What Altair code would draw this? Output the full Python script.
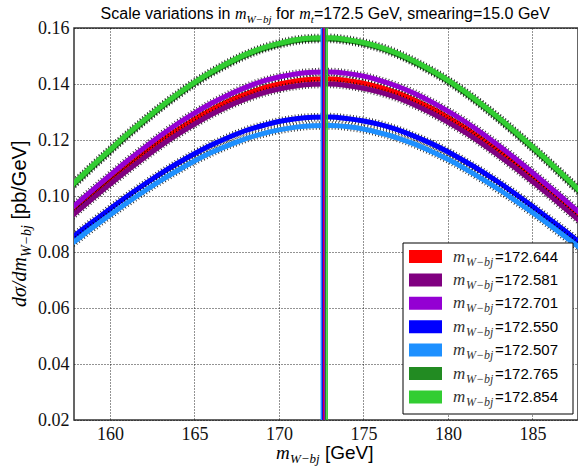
import altair as alt
import pandas as pd

# ---------------- data ----------------
mass = list(range(157, 189))

series_names = ["172.644", "172.581", "172.701", "172.550", "172.507", "172.765", "172.854"]
series_colors = ["#ff0000", "#800080", "#9400d3", "#0000ff", "#1e90ff", "#228b22", "#32cd32"]
series_means = [172.644, 172.581, 172.701, 172.550, 172.507, 172.765, 172.854]

y_172644 = [0.0902, 0.0954, 0.1006, 0.1056, 0.1104, 0.1151, 0.1195, 0.1236, 0.1274, 0.1308, 0.1338,
            0.1363, 0.1384, 0.1400, 0.1411, 0.1417, 0.1418, 0.1413, 0.1403, 0.1388, 0.1368, 0.1343,
            0.1314, 0.1281, 0.1244, 0.1203, 0.1160, 0.1114, 0.1066, 0.1016, 0.0965, 0.0912]
y_172581 = [0.0890, 0.0942, 0.0993, 0.1042, 0.1090, 0.1136, 0.1180, 0.1220, 0.1257, 0.1291, 0.1321,
            0.1346, 0.1367, 0.1382, 0.1393, 0.1399, 0.1400, 0.1395, 0.1385, 0.1370, 0.1351, 0.1326,
            0.1297, 0.1264, 0.1228, 0.1188, 0.1145, 0.1100, 0.1052, 0.1003, 0.0952, 0.0901]
y_172701 = [0.0918, 0.0971, 0.1023, 0.1074, 0.1124, 0.1171, 0.1216, 0.1258, 0.1296, 0.1331, 0.1361,
            0.1387, 0.1409, 0.1425, 0.1436, 0.1442, 0.1443, 0.1438, 0.1428, 0.1412, 0.1392, 0.1367,
            0.1337, 0.1303, 0.1266, 0.1225, 0.1180, 0.1133, 0.1084, 0.1033, 0.0982, 0.0929]
y_172550 = [0.0815, 0.0863, 0.0909, 0.0954, 0.0998, 0.1040, 0.1080, 0.1117, 0.1151, 0.1182, 0.1209,
            0.1233, 0.1251, 0.1266, 0.1276, 0.1281, 0.1282, 0.1277, 0.1268, 0.1255, 0.1237, 0.1214,
            0.1188, 0.1158, 0.1124, 0.1088, 0.1049, 0.1007, 0.0963, 0.0918, 0.0872, 0.0825]
y_172507 = [0.0796, 0.0842, 0.0888, 0.0932, 0.0975, 0.1016, 0.1055, 0.1091, 0.1125, 0.1155, 0.1181,
            0.1204, 0.1222, 0.1236, 0.1246, 0.1251, 0.1252, 0.1248, 0.1239, 0.1225, 0.1208, 0.1186,
            0.1160, 0.1131, 0.1098, 0.1062, 0.1024, 0.0983, 0.0941, 0.0897, 0.0852, 0.0806]
y_172765 = [0.0991, 0.1049, 0.1106, 0.1161, 0.1215, 0.1266, 0.1315, 0.1360, 0.1402, 0.1439, 0.1472,
            0.1501, 0.1524, 0.1541, 0.1554, 0.1560, 0.1561, 0.1555, 0.1544, 0.1528, 0.1506, 0.1478,
            0.1446, 0.1410, 0.1369, 0.1324, 0.1276, 0.1225, 0.1172, 0.1117, 0.1061, 0.1003]
y_172854 = [0.0995, 0.1053, 0.1110, 0.1165, 0.1219, 0.1270, 0.1319, 0.1364, 0.1406, 0.1443, 0.1476,
            0.1505, 0.1528, 0.1545, 0.1558, 0.1564, 0.1565, 0.1559, 0.1548, 0.1532, 0.1510, 0.1482,
            0.1450, 0.1414, 0.1373, 0.1328, 0.1280, 0.1229, 0.1176, 0.1121, 0.1065, 0.1007]

series_values = [y_172644, y_172581, y_172701, y_172550, y_172507, y_172765, y_172854]

x_ticks = [160, 165, 170, 175, 180, 185]
y_ticks = [0.02, 0.04, 0.06, 0.08, 0.10, 0.12, 0.14, 0.16]

# ---------------- styling ----------------
W, H = 504, 392
SERIF = "Liberation Serif"
SANS = "Liberation Sans"

xscale = alt.Scale(domain=[157.87, 187.7], nice=False, zero=False)
yscale = alt.Scale(domain=[0.02, 0.16], nice=False, zero=False)

x_axis = alt.Axis(values=x_ticks, format="d", labelFont=SERIF, labelFontSize=18, labelColor="#111",
                  labelPadding=5, ticks=False, domain=False, grid=True, gridColor="black",
                  gridDash=[1, 2], gridOpacity=0.85, gridWidth=1, title=None, labelFlush=False)
y_axis = alt.Axis(values=y_ticks, format=".2f", labelFont=SERIF, labelFontSize=18, labelColor="#111",
                  labelPadding=5, ticks=False, domain=False, grid=True, gridColor="black",
                  gridDash=[1, 2], gridOpacity=0.85, gridWidth=1, title=None, labelFlush=False)

curve_layers = []
for name, col, vals in zip(series_names, series_colors, series_values):
    df = pd.DataFrame({"m": mass, "v": vals})
    base = alt.Chart(df).encode(
        x=alt.X("m:Q", scale=xscale, axis=x_axis),
        y=alt.Y("v:Q", scale=yscale, axis=y_axis),
    )
    curve_layers.append(base.mark_line(color="black", strokeWidth=8.5, strokeDash=[0.8, 2.4],
                                       opacity=0.9, interpolate="monotone", clip=True))
    curve_layers.append(base.mark_line(color=col, strokeWidth=5, interpolate="monotone", clip=True))

rules_df = pd.DataFrame({"mean": series_means, "col": series_colors})
rules = alt.Chart(rules_df).mark_rule(strokeWidth=1.5, clip=True).encode(
    x=alt.X("mean:Q", scale=xscale, axis=x_axis),
    color=alt.Color("col:N", scale=None),
)

main = alt.layer(*curve_layers, rules)

# ---------------- legend ----------------
leg_df = pd.DataFrame({"row": list(range(len(series_names))), "name": ["=" + n for n in series_names],
                       "col": series_colors})
one = pd.DataFrame({"k": [0]})
row_y = alt.Y("row:Q", scale=alt.Scale(domain=[0, 6], range=[228.5, 368.9]), axis=None)

leg_box = alt.Chart(one).mark_rect(fill="white", stroke="black", strokeWidth=1).encode(
    x=alt.value(329), x2=alt.value(499), y=alt.value(215), y2=alt.value(386))
leg_sw = alt.Chart(leg_df).mark_tick(orient="horizontal", size=33, thickness=13, opacity=1).encode(
    x=alt.value(351.5), y=row_y, color=alt.Color("col:N", scale=None))
leg_m = alt.Chart(leg_df).mark_text(text="m", font=SERIF, fontStyle="italic", fontSize=17,
                                    align="left", baseline="middle", color="#333").encode(
    x=alt.value(379), y=row_y)
leg_sub = alt.Chart(leg_df).mark_text(text="W\u2212bj", font=SERIF, fontStyle="italic", fontSize=12,
                                      align="left", baseline="middle", dy=5, color="#333").encode(
    x=alt.value(392), y=row_y)
leg_txt = alt.Chart(leg_df).mark_text(font=SANS, fontSize=15, align="left", baseline="middle",
                                      color="black").encode(
    x=alt.value(421), y=row_y, text="name:N")

legend = alt.layer(leg_box, leg_sw, leg_m, leg_sub, leg_txt)


def txt(s, x, y, font, size, style="normal", angle=0, align="left", baseline="alphabetic"):
    return alt.Chart(one).mark_text(text=s, font=font, fontSize=size, fontStyle=style, angle=angle,
                                    align=align, baseline=baseline, color="black").encode(
        x=alt.value(x), y=alt.value(y))


# ---------------- title pieces ----------------
ty = -9
titles = [
    txt("Scale variations in", 26.6, ty, SANS, 16),
    txt("m", 160.9, ty, SERIF, 16, "italic"),
    txt("W\u2212bj", 172.5, ty + 4, SERIF, 11, "italic"),
    txt("for", 202.0, ty, SANS, 16),
    txt("m", 225.2, ty, SERIF, 16, "italic"),
    txt("t", 236.8, ty + 4, SERIF, 11, "italic"),
    txt("=172.5 GeV, smearing=15.0 GeV", 239.9, ty, SANS, 16),
]

# x-axis title
xt_y = 431
titles += [
    txt("m", 202.0, xt_y, SERIF, 19, "italic"),
    txt("W\u2212bj", 216.0, xt_y + 4, SERIF, 13, "italic"),
    txt("[GeV]", 251.0, xt_y, SANS, 19),
]

# y-axis title (rotated)
yt_x = -48
titles += [
    txt("d\u03c3/dm", yt_x, 279, SERIF, 20, "italic", angle=270),
    txt("W\u2212bj", yt_x + 5, 229, SERIF, 14, "italic", angle=270),
    txt("[pb/GeV]", yt_x, 191.5, SANS, 20, angle=270),
]

chart = alt.layer(main, legend, *titles).resolve_scale(y="independent").properties(
    width=W, height=H,
    padding={"left": 74, "top": 28, "right": 0, "bottom": 46},
    autosize=alt.AutoSizeParams(type="none"),
    background="white",
).configure_view(stroke="#333", strokeWidth=1.5).configure_axis(
    labelFont=SERIF, labelFontSize=18, labelColor="#111"
)

chart.save("out.html", embed_options={"renderer": "svg", "actions": False})
